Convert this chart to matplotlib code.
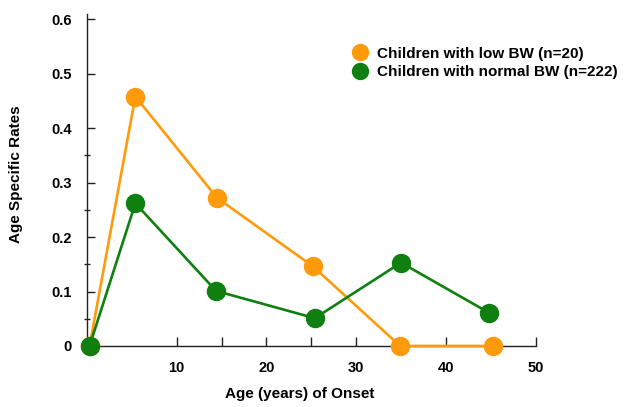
import matplotlib
matplotlib.use('Agg')
import matplotlib.pyplot as plt
from matplotlib.lines import Line2D

plt.rcParams['font.family'] = ['Liberation Sans', 'DejaVu Sans']
plt.rcParams['font.weight'] = 'bold'

# data
low_age = [0.3, 5.4, 14.5, 25.2, 34.9, 45.2]
low_rate = [0.0, 0.458, 0.272, 0.146, 0.0, 0.0]
normal_age = [0.3, 5.4, 14.4, 25.4, 35.0, 44.8]
normal_rate = [0.0, 0.262, 0.101, 0.051, 0.153, 0.061]

low_label = 'Children with low BW (n=20)'
normal_label = 'Children with normal BW (n=222)'

x_major = [10, 20, 30, 40, 50]
x_minor = [15, 25, 35, 45]
y_major = [0, 0.1, 0.2, 0.3, 0.4, 0.5, 0.6]
y_major_labels = ['0', '0.1', '0.2', '0.3', '0.4', '0.5', '0.6']
y_minor = [0.05, 0.15, 0.25, 0.35]

orange = '#FF9A0A'
green = '#0F800F'

fig = plt.figure(figsize=(6.25, 4.07), dpi=100)
ax = fig.add_axes([0.139, 0.150, 0.718, 0.816])

ax.plot(low_age, low_rate, color=orange, lw=1.9, marker='o', ms=13,
        clip_on=False, zorder=3)
ax.plot(normal_age, normal_rate, color=green, lw=1.9, marker='o', ms=13,
        clip_on=False, zorder=4)

ax.set_xlim(0, 50)
ax.set_ylim(0, 0.61)

for side in ['top', 'right']:
    ax.spines[side].set_visible(False)
for side in ['left', 'bottom']:
    ax.spines[side].set_linewidth(1.0)
    ax.spines[side].set_color('#222222')

ax.set_xticks(x_major)
ax.set_xticks(x_minor, minor=True)
ax.set_yticks(y_major)
ax.set_yticklabels(y_major_labels)
ax.set_yticks(y_minor, minor=True)

ax.tick_params(axis='x', which='both', direction='in', length=6.5, width=1,
               pad=11, labelsize=10.5, color='#222222')
ax.tick_params(axis='y', which='major', direction='in', length=5.5, width=1,
               pad=11, labelsize=10.5, color='#222222')
ax.tick_params(axis='y', which='minor', direction='inout', length=4, width=1,
               color='#222222')
for lab in ax.get_xticklabels() + ax.get_yticklabels():
    lab.set_fontweight('bold')

ax.set_xlabel('Age (years) of Onset', fontsize=11, fontweight='bold')
ax.xaxis.set_label_coords(0.475, -0.125)
ax.set_ylabel('Age Specific Rates', fontsize=11, fontweight='bold')
ax.yaxis.set_label_coords(-0.143, 0.518)

handles = [
    Line2D([], [], color=orange, marker='o', linestyle='none', ms=11.5),
    Line2D([], [], color=green, marker='o', linestyle='none', ms=11.5),
]
fig.legend(handles, [low_label, normal_label], loc='upper left',
           bbox_to_anchor=(0.564, 0.885), frameon=False,
           prop={'weight': 'bold', 'size': 11}, handlelength=1.0,
           handletextpad=0.6, labelspacing=0.3, borderpad=0,
           borderaxespad=0)

fig.savefig('out.png', dpi=100)
